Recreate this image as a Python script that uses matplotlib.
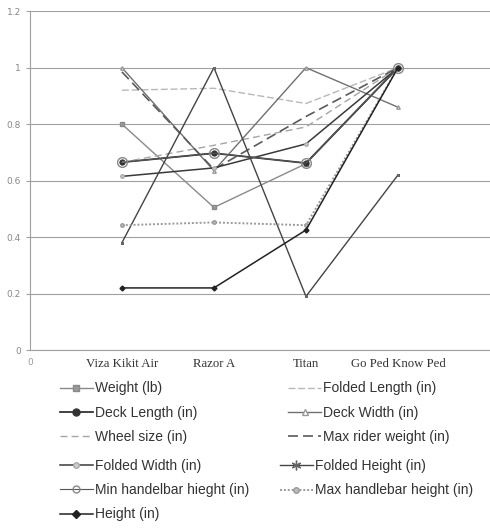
import matplotlib.pyplot as plt

# Datos normalizados (valor / valor maximo) para cada scooter
scooters = ['Viza Kikit Air', 'Razor A', 'Titan', 'Go Ped Know Ped']
x_pos = [1, 2, 3, 4]

weight = [0.80, 0.505, 0.66, 1.0]
folded_length = [0.92, 0.927, 0.873, 1.0]
deck_length = [0.665, 0.697, 0.662, 1.0]
deck_width = [1.0, 0.635, 1.0, 0.86]
wheel_size = [0.665, 0.725, 0.79, 1.0]
max_rider_weight = [0.985, 0.64, 0.827, 1.0]
folded_width = [0.615, 0.645, 0.73, 1.0]
folded_height = [0.38, 1.0, 0.19, 0.62]
min_handlebar = [0.665, 0.697, 0.662, 1.0]
max_handlebar = [0.442, 0.452, 0.442, 1.0]
height = [0.22, 0.22, 0.425, 1.0]

fig = plt.figure(figsize=(4.9, 5.32), dpi=100)
ax = fig.add_axes([0.061, 0.342, 0.939, 0.637])

# estilos de cada serie (ultimo valor: tamano del marcador en la leyenda)
series = [
    ('Weight (lb)', weight, dict(color='#8a8a8a', ls='-', lw=1.0, marker='s', ms=3.5, mfc='#9a9a9a', mec='#8a8a8a'), 5),
    ('Folded Length (in)', folded_length, dict(color='#b8b8b8', ls=(0, (5, 2)), lw=1.0), 0),
    ('Deck Length (in)', deck_length, dict(color='#333333', ls='-', lw=1.3, marker='o', ms=3.5, mfc='#333333', mec='#333333'), 5),
    ('Deck Width (in)', deck_width, dict(color='#707070', ls='-', lw=1.0, marker='^', ms=2.5, mfc='white', mec='#999999'), 5),
    ('Wheel size (in)', wheel_size, dict(color='#a5a5a5', ls=(0, (5, 3)), lw=1.0), 0),
    ('Max rider weight (in)', max_rider_weight, dict(color='#5a5a5a', ls=(0, (6, 3)), lw=1.2), 0),
    ('Folded Width (in)', folded_width, dict(color='#3a3a3a', ls='-', lw=1.1, marker='o', ms=2.5, mfc='#cccccc', mec='#aaaaaa'), 4),
    ('Folded Height (in)', folded_height, dict(color='#444444', ls='-', lw=1.0, marker=(6, 2, 0), ms=2, mec='#666666'), 7),
    ('Min handelbar hieght (in)', min_handlebar, dict(color='#555555', ls='-', lw=0.8, marker='o', ms=7, mfc='none', mec='#888888'), 5),
    ('Max handlebar height (in)', max_handlebar, dict(color='#9a9a9a', ls=(0, (1, 1)), lw=1.4, marker='o', ms=2.5, mfc='#bbbbbb', mec='#9a9a9a'), 4),
    ('Height (in)', height, dict(color='#222222', ls='-', lw=1.1, marker='D', ms=2.5, mfc='#222222', mec='#222222'), 4),
]

handles = {}
leg_ms = {}
for label, vals, style, lms in series:
    ln, = ax.plot(x_pos, vals, label=label, **style)
    handles[label] = ln
    leg_ms[label] = lms

# ejes
ax.set_xlim(0, 5)
ax.set_ylim(0, 1.2)
ax.set_yticks([0, 0.2, 0.4, 0.6, 0.8, 1.0, 1.2])
ax.set_yticklabels(['0', '0.2', '0.4', '0.6', '0.8', '1', '1.2'])
ax.set_xticks([0] + x_pos)
ax.set_xticklabels(['0'] + scooters)
ax.yaxis.grid(True, color='#a0a0a0', lw=0.8)
ax.set_axisbelow(True)
for s in ['top', 'right']:
    ax.spines[s].set_visible(False)
for s in ['left', 'bottom']:
    ax.spines[s].set_color('#a0a0a0')
ax.tick_params(axis='y', colors='#a0a0a0', labelsize=6.5, length=3, labelcolor='#888888')
ax.tick_params(axis='x', length=0, pad=6, labelcolor='#333333')
for i, t in enumerate(ax.get_xticklabels()):
    if i == 0:
        t.set_fontfamily('DejaVu Sans')
        t.set_fontsize(6.5)
        t.set_color('#999999')
    else:
        t.set_fontfamily('Liberation Serif')
        t.set_fontsize(9.2)

# leyendas en dos bloques de dos columnas
def add_legend(labels, x, y):
    leg = fig.legend([handles[l] for l in labels], labels, loc='center left',
                     bbox_to_anchor=(x, y), frameon=False, handlelength=2.4,
                     handletextpad=0.1, labelspacing=0.75, borderpad=0, borderaxespad=0,
                     prop={'family': 'Liberation Sans', 'size': 10})
    for t, h, l in zip(leg.get_texts(), leg.legend_handles, labels):
        t.set_color('#333333')
        if leg_ms[l]:
            h.set_markersize(leg_ms[l])
    return leg

add_legend(['Weight (lb)', 'Deck Length (in)', 'Wheel size (in)'], 0.122, 0.224)
add_legend(['Folded Length (in)', 'Deck Width (in)', 'Max rider weight (in)'], 0.588, 0.224)
add_legend(['Folded Width (in)', 'Min handelbar hieght (in)', 'Height (in)'], 0.122, 0.079)
add_legend(['Folded Height (in)', 'Max handlebar height (in)'], 0.571, 0.101)

fig.savefig('out.png', dpi=100)
